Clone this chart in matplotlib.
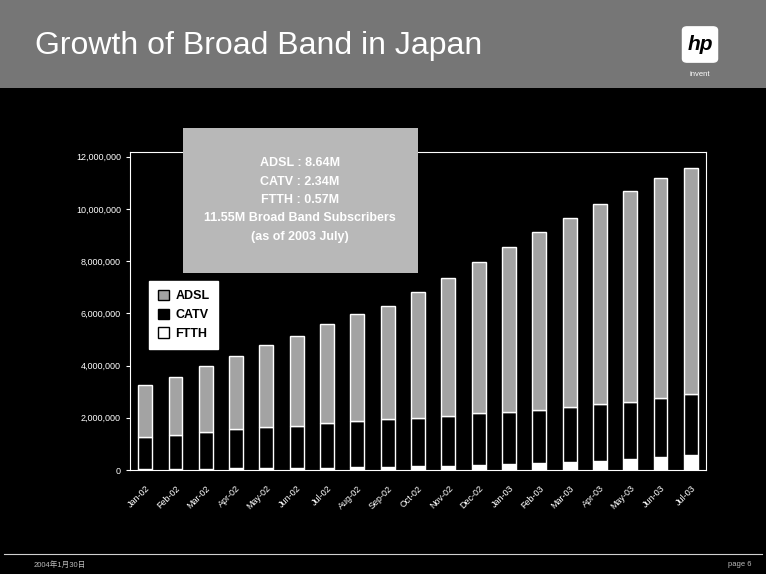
import matplotlib
matplotlib.use("Agg")
import matplotlib.pyplot as plt
import numpy as np
from matplotlib.patches import FancyBboxPatch, Rectangle
from matplotlib.ticker import FuncFormatter

plt.rcParams["font.family"] = ["Liberation Sans", "Noto Sans CJK JP", "DejaVu Sans"]

months = [
    "Jan-02", "Feb-02", "Mar-02", "Apr-02", "May-02", "Jun-02", "Jul-02",
    "Aug-02", "Sep-02", "Oct-02", "Nov-02", "Dec-02", "Jan-03", "Feb-03",
    "Mar-03", "Apr-03", "May-03", "Jun-03", "Jul-03",
]
# subscribers, millions
ftth = [0.03, 0.04, 0.05, 0.06, 0.07, 0.08, 0.09, 0.10, 0.12, 0.15,
        0.17, 0.19, 0.24, 0.27, 0.31, 0.36, 0.43, 0.50, 0.57]
catv = [1.25, 1.31, 1.41, 1.52, 1.58, 1.62, 1.71, 1.76, 1.84, 1.85,
        1.88, 1.99, 2.00, 2.03, 2.09, 2.18, 2.17, 2.26, 2.34]
adsl = [1.96, 2.22, 2.54, 2.77, 3.12, 3.45, 3.78, 4.10, 4.34, 4.82,
        5.31, 5.78, 6.32, 6.80, 7.25, 7.63, 8.10, 8.42, 8.64]
y_ticks = [0, 2_000_000, 4_000_000, 6_000_000, 8_000_000, 10_000_000, 12_000_000]

W, H = 766, 574
fig = plt.figure(figsize=(W / 100, H / 100), dpi=100)
fig.patch.set_facecolor("black")


def px_rect(x0, y0, x1, y1):
    """Figure-fraction rect from pixel box (top-left origin)."""
    return [x0 / W, 1 - y1 / H, (x1 - x0) / W, (y1 - y0) / H]


# header band
fig.add_artist(Rectangle((0, 1 - 88 / H), 1, 88 / H, transform=fig.transFigure,
                         facecolor="#767676", edgecolor="none", zorder=0))
fig.text(35 / W, 1 - 46 / H, "Growth of Broad Band in Japan", color="white",
         fontsize=23, va="center", ha="left")

# hp logo
fig.add_artist(FancyBboxPatch((684 / W, 1 - 61 / H), 32 / W, 33 / H,
                              boxstyle="round,pad=0.002,rounding_size=0.006",
                              transform=fig.transFigure, facecolor="white",
                              edgecolor="white", zorder=2))
fig.text(700 / W, 1 - 45 / H, "hp", color="black", fontsize=15, fontweight="bold",
         style="italic", ha="center", va="center", zorder=3)
fig.text(700 / W, 1 - 74 / H, "invent", color="white", fontsize=5.5,
         ha="center", va="center", zorder=3)

# footer
fig.add_artist(plt.Line2D([0.005, 0.995], [1 - 554 / H, 1 - 554 / H],
                          transform=fig.transFigure, color="#d0d0d0", lw=0.8))
fig.text(34 / W, 1 - 565 / H, "2004年1月30日", color="#bbbbbb", fontsize=5.5,
         va="center", ha="left")
fig.text(752 / W, 1 - 565 / H, "page 6", color="#bbbbbb", fontsize=5.5,
         va="center", ha="right")

ax = fig.add_axes(px_rect(130, 152, 706, 470))
ax.set_facecolor("black")

x = np.arange(len(months))
ftth_v = np.array(ftth) * 1e6
catv_v = np.array(catv) * 1e6
adsl_v = np.array(adsl) * 1e6
bw = 0.46
ax.bar(x, ftth_v, bw, color="white", edgecolor="white", lw=1.0, label="FTTH")
ax.bar(x, catv_v, bw, bottom=ftth_v, color="black", edgecolor="white", lw=1.0,
       label="CATV")
ax.bar(x, adsl_v, bw, bottom=ftth_v + catv_v, color="#a3a3a3", edgecolor="white",
       lw=1.0, label="ADSL")

ax.set_xlim(-0.5, len(months) - 0.5)
ax.set_ylim(0, 12.18e6)
ax.set_yticks(y_ticks)
ax.yaxis.set_major_formatter(FuncFormatter(lambda v, _: f"{int(v):,}"))
ax.set_xticks(x)
ax.set_xticklabels(months, rotation=45, ha="right", rotation_mode="anchor")
ax.tick_params(axis="y", colors="white", labelsize=6.5, length=3, width=0.8)
ax.tick_params(axis="x", colors="white", labelsize=6.5, length=0, pad=10)
for s in ax.spines.values():
    s.set_color("white")
    s.set_linewidth(0.8)

handles, labels = ax.get_legend_handles_labels()
leg = ax.legend(handles[::-1], labels[::-1], loc="upper left",
                bbox_to_anchor=(149 / W, 1 - 281 / H), bbox_transform=fig.transFigure,
                frameon=True, fancybox=False, framealpha=1, fontsize=9,
                handlelength=0.9, handleheight=0.9, borderpad=0.7,
                labelspacing=0.5, handletextpad=0.5, borderaxespad=0)
leg.get_frame().set_facecolor("white")
leg.get_frame().set_edgecolor("white")
for t in leg.get_texts():
    t.set_color("black")
    t.set_fontweight("bold")
for h in leg.legend_handles:
    h.set_edgecolor("black")
    h.set_linewidth(1.0)

# summary box for the latest month
total = adsl[-1] + catv[-1] + ftth[-1]
summary = "\n".join([
    f"ADSL : {adsl[-1]:.2f}M",
    f"CATV : {catv[-1]:.2f}M",
    f"FTTH : {ftth[-1]:.2f}M",
    f"{total:.2f}M Broad Band Subscribers",
    "(as of 2003 July)",
])
fig.add_artist(Rectangle((183 / W, 1 - 273 / H), 235 / W, 145 / H,
                         transform=fig.transFigure, facecolor="#b8b8b8",
                         edgecolor="none", zorder=4))
fig.text(300 / W, 1 - 200 / H, summary, color="white", fontsize=9,
         fontweight="bold", ha="center", va="center", linespacing=1.7, zorder=5)

fig.savefig("out.png", dpi=100, facecolor=fig.get_facecolor())
